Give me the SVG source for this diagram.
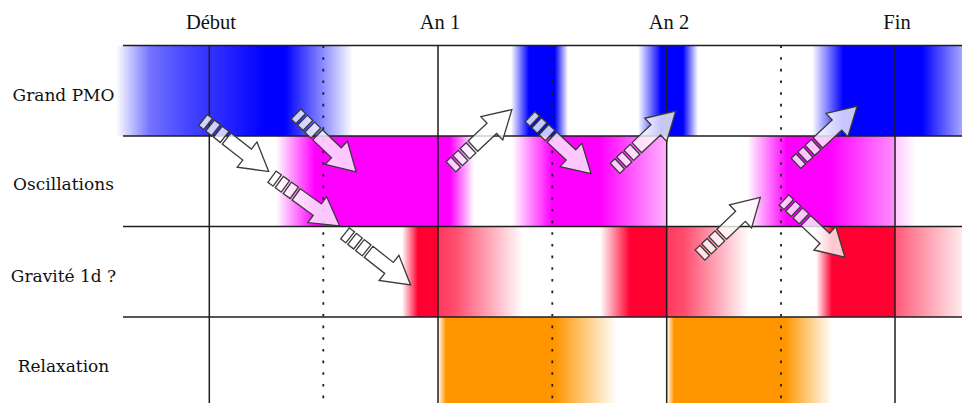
<svg xmlns="http://www.w3.org/2000/svg" xmlns:xlink="http://www.w3.org/1999/xlink" width="962" height="403" viewBox="0 0 962 403">
<style>
.hdr{font-family:"Liberation Serif",serif;font-size:20.5px;fill:#111;text-anchor:middle}
.lbl{font-family:"DejaVu Serif",serif;font-size:17px;fill:#111;text-anchor:middle}
.grid{stroke:#1e1e1e;stroke-width:1.5;fill:none}
.dot{stroke:#1e1e1e;stroke-width:1.8;fill:none;stroke-dasharray:2.6 9.07}
.arr{fill:#fff;fill-opacity:0.78;stroke:#3a3a3a;stroke-width:1.3;stroke-linejoin:miter}
</style>
<defs>
<linearGradient id="gBlue" gradientUnits="userSpaceOnUse" x1="0" y1="0" x2="962" y2="0">
<stop offset="0" stop-color="#0000ff" stop-opacity="0"/>
<stop offset="0.1206" stop-color="#0000ff" stop-opacity="0"/>
<stop offset="0.1559" stop-color="#0000ff" stop-opacity="0.55"/>
<stop offset="0.1923" stop-color="#0000ff" stop-opacity="0.72"/>
<stop offset="0.2173" stop-color="#0000ff" stop-opacity="0.8"/>
<stop offset="0.2755" stop-color="#0000ff" stop-opacity="1"/>
<stop offset="0.2963" stop-color="#0000ff" stop-opacity="1"/>
<stop offset="0.3326" stop-color="#0000ff" stop-opacity="0.5"/>
<stop offset="0.3669" stop-color="#0000ff" stop-opacity="0"/>
<stop offset="0.5312" stop-color="#0000ff" stop-opacity="0"/>
<stop offset="0.5499" stop-color="#0000ff" stop-opacity="1"/>
<stop offset="0.5769" stop-color="#0000ff" stop-opacity="1"/>
<stop offset="0.5904" stop-color="#0000ff" stop-opacity="0"/>
<stop offset="0.6632" stop-color="#0000ff" stop-opacity="0"/>
<stop offset="0.6871" stop-color="#0000ff" stop-opacity="1"/>
<stop offset="0.7100" stop-color="#0000ff" stop-opacity="1"/>
<stop offset="0.7256" stop-color="#0000ff" stop-opacity="0"/>
<stop offset="0.8441" stop-color="#0000ff" stop-opacity="0"/>
<stop offset="0.8763" stop-color="#0000ff" stop-opacity="1"/>
<stop offset="0.9584" stop-color="#0000ff" stop-opacity="1"/>
<stop offset="1" stop-color="#0000ff" stop-opacity="0.35"/>
</linearGradient>
<linearGradient id="gMag" gradientUnits="userSpaceOnUse" x1="0" y1="0" x2="962" y2="0">
<stop offset="0" stop-color="#ff00ff" stop-opacity="0"/>
<stop offset="0.2869" stop-color="#ff00ff" stop-opacity="0"/>
<stop offset="0.3274" stop-color="#ff00ff" stop-opacity="1"/>
<stop offset="0.4678" stop-color="#ff00ff" stop-opacity="1"/>
<stop offset="0.4927" stop-color="#ff00ff" stop-opacity="0"/>
<stop offset="0.5322" stop-color="#ff00ff" stop-opacity="0"/>
<stop offset="0.5738" stop-color="#ff00ff" stop-opacity="1"/>
<stop offset="0.6237" stop-color="#ff00ff" stop-opacity="1"/>
<stop offset="0.6923" stop-color="#ff00ff" stop-opacity="0.3"/>
<stop offset="0.6933" stop-color="#ff00ff" stop-opacity="0"/>
<stop offset="0.7765" stop-color="#ff00ff" stop-opacity="0"/>
<stop offset="0.8181" stop-color="#ff00ff" stop-opacity="1"/>
<stop offset="0.8628" stop-color="#ff00ff" stop-opacity="1"/>
<stop offset="0.9293" stop-color="#ff00ff" stop-opacity="0.45"/>
<stop offset="0.9314" stop-color="#ff00ff" stop-opacity="0.2"/>
<stop offset="0.9522" stop-color="#ff00ff" stop-opacity="0"/>
<stop offset="1" stop-color="#ff00ff" stop-opacity="0"/>
</linearGradient>
<linearGradient id="gRed" gradientUnits="userSpaceOnUse" x1="0" y1="0" x2="962" y2="0">
<stop offset="0" stop-color="#ff0030" stop-opacity="0"/>
<stop offset="0.4179" stop-color="#ff0030" stop-opacity="0"/>
<stop offset="0.4345" stop-color="#ff0030" stop-opacity="1"/>
<stop offset="0.4553" stop-color="#ff0030" stop-opacity="1"/>
<stop offset="0.4553" stop-color="#ff0030" stop-opacity="0.78"/>
<stop offset="0.4730" stop-color="#ff0030" stop-opacity="0.7"/>
<stop offset="0.5437" stop-color="#ff0030" stop-opacity="0"/>
<stop offset="0.6237" stop-color="#ff0030" stop-opacity="0"/>
<stop offset="0.6549" stop-color="#ff0030" stop-opacity="1"/>
<stop offset="0.6933" stop-color="#ff0030" stop-opacity="1"/>
<stop offset="0.6933" stop-color="#ff0030" stop-opacity="0.78"/>
<stop offset="0.7110" stop-color="#ff0030" stop-opacity="0.7"/>
<stop offset="0.7786" stop-color="#ff0030" stop-opacity="0"/>
<stop offset="0.8482" stop-color="#ff0030" stop-opacity="0"/>
<stop offset="0.8649" stop-color="#ff0030" stop-opacity="1"/>
<stop offset="0.9304" stop-color="#ff0030" stop-opacity="1"/>
<stop offset="0.9304" stop-color="#ff0030" stop-opacity="0.65"/>
<stop offset="1" stop-color="#ff0030" stop-opacity="0.08"/>
</linearGradient>
<linearGradient id="gOr" gradientUnits="userSpaceOnUse" x1="0" y1="0" x2="962" y2="0">
<stop offset="0" stop-color="#ff9600" stop-opacity="0"/>
<stop offset="0.4553" stop-color="#ff9600" stop-opacity="0"/>
<stop offset="0.4636" stop-color="#ff9600" stop-opacity="1"/>
<stop offset="0.5769" stop-color="#ff9600" stop-opacity="1"/>
<stop offset="0.6414" stop-color="#ff9600" stop-opacity="0"/>
<stop offset="0.6933" stop-color="#ff9600" stop-opacity="0"/>
<stop offset="0.7006" stop-color="#ff9600" stop-opacity="1"/>
<stop offset="0.8160" stop-color="#ff9600" stop-opacity="1"/>
<stop offset="0.8649" stop-color="#ff9600" stop-opacity="0"/>
<stop offset="1" stop-color="#ff9600" stop-opacity="0"/>
</linearGradient>
<g id="arrow">
<rect class="arr" x="0" y="-7" width="6.5" height="14"/>
<rect class="arr" x="9" y="-7" width="7.5" height="14"/>
<rect class="arr" x="19" y="-7" width="8.5" height="14"/>
<polygon class="arr" points="30,-7 56,-7 56,-16 83.5,0 56,16 56,7 30,7"/>
</g>
</defs>
<rect x="0" y="0" width="962" height="403" fill="#fff"/>

<g id="bands">
<rect x="0" y="45.5" width="962" height="90.5" fill="url(#gBlue)"/>
<rect x="0" y="136" width="962" height="90.5" fill="url(#gMag)"/>
<rect x="0" y="226.5" width="962" height="90.5" fill="url(#gRed)"/>
<rect x="0" y="317" width="962" height="86" fill="url(#gOr)"/>
</g>

<g id="grid">
<line class="grid" x1="123" y1="45.5" x2="962" y2="45.5"/>
<line class="grid" x1="123" y1="136" x2="962" y2="136"/>
<line class="grid" x1="123" y1="226.5" x2="962" y2="226.5"/>
<line class="grid" x1="123" y1="317" x2="962" y2="317"/>
<line class="grid" x1="209.3" y1="45.5" x2="209.3" y2="403"/>
<line class="grid" x1="438" y1="45.5" x2="438" y2="403"/>
<line class="grid" x1="666.7" y1="45.5" x2="666.7" y2="403"/>
<line class="grid" x1="895" y1="45.5" x2="895" y2="403"/>
<line class="dot" x1="323.3" y1="45.5" x2="323.3" y2="403"/>
<line class="dot" x1="552.3" y1="45.5" x2="552.3" y2="403"/>
<line class="dot" x1="781" y1="45.5" x2="781" y2="403"/>
</g>

<g id="header">
<text class="hdr" x="211" y="29">Début</text>
<text class="hdr" x="440" y="29">An 1</text>
<text class="hdr" x="669" y="29">An 2</text>
<text class="hdr" x="897" y="29">Fin</text>
</g>

<g id="row-grand-pmo"><text class="lbl" x="63.5" y="101">Grand PMO</text></g>
<g id="row-oscillations"><text class="lbl" x="63.5" y="190">Oscillations</text></g>
<g id="row-gravite"><text class="lbl" x="63.5" y="282">Gravité 1d ?</text></g>
<g id="row-relaxation"><text class="lbl" x="63.5" y="372">Relaxation</text></g>

<g id="connectors">
<use xlink:href="#arrow" transform="translate(203,120) rotate(38.1)"/>
<use xlink:href="#arrow" transform="translate(296,114) rotate(43.9)"/>
<use xlink:href="#arrow" transform="translate(272,176.7) rotate(36)"/>
<use xlink:href="#arrow" transform="translate(345,233.3) rotate(38.2)"/>
<use xlink:href="#arrow" transform="translate(451,166.7) rotate(-43.2)"/>
<use xlink:href="#arrow" transform="translate(530,116.7) rotate(43)"/>
<use xlink:href="#arrow" transform="translate(615,168.3) rotate(-43.3)"/>
<use xlink:href="#arrow" transform="translate(700,255) rotate(-43.7)"/>
<use xlink:href="#arrow" transform="translate(796,163.3) rotate(-43)"/>
<use xlink:href="#arrow" transform="translate(784,200) rotate(43.2)"/>
</g>
</svg>
